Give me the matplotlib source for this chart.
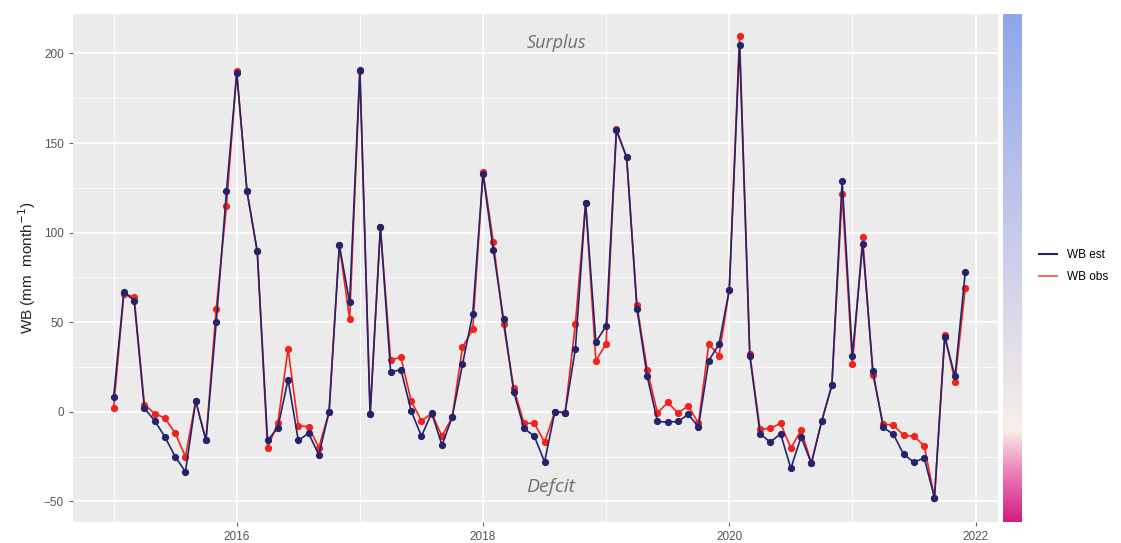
import matplotlib
matplotlib.use('Agg')
import matplotlib.pyplot as plt
import numpy as np
from matplotlib.colors import LinearSegmentedColormap
from matplotlib.lines import Line2D

plt.rcParams['font.family'] = ['Liberation Sans', 'DejaVu Sans']

# monthly series, Jan 2015 .. Dec 2021
start_year = 2015
wb_est = [8, 67, 62, 2, -5, -14, -25, -33.5, 6, -16, 50, 123,
          189, 123, 89.5, -16, -9, 18, -16, -12, -24, 0, 93, 61,
          191, -1.5, 103, 22, 23.6, 0.5, -13.6, -0.6, -18.6, -3, 26.5, 54.6,
          132.8, 90.5, 51.7, 11, -9.3, -13.6, -28, 0, -0.5, 35, 116.7, 39,
          47.9, 157, 142, 57.6, 19.8, -5.4, -5.8, -5.4, -1.5, -8.3, 28.5, 37.8,
          68, 204.8, 31.4, -12.2, -17, -12.2, -31.6, -14, -28.7, -5.4, 14.9, 128.9,
          31.4, 93.4, 22.7, -8.7, -12.6, -23.8, -28.1, -25.8, -48, 41.5, 19.8, 78]
wb_obs = [2, 66, 64, 4, -1, -3.5, -12, -25, 6, -16, 57.5, 115,
          190, 123, 89.5, -20, -6.4, 35, -7.8, -8.3, -20, 0, 93, 51.7,
          190, -1.5, 103, 29, 30.4, 6, -5, -1, -13.6, -3, 36, 46,
          134, 95, 48.8, 13, -6.4, -6.4, -17, 0, -0.5, 48.8, 116.7, 28.5,
          38, 157.7, 142, 59.5, 23.6, -0.6, 5.2, -0.6, 3.3, -6.4, 37.8, 31.4,
          68, 210, 32.4, -9.7, -9.3, -6.4, -20.3, -10.3, -28.7, -5.4, 14.9, 121.5,
          26.5, 97.3, 20.7, -7, -7.4, -13.2, -13.6, -19, -48, 43, 16.9, 69.2]
year_ticks = [2016, 2018, 2020, 2022]
y_ticks = [-50, 0, 50, 100, 150, 200]

t = start_year + np.arange(len(wb_est)) / 12.0

est_col = '#24246e'
obs_col = '#f2231d'

fig = plt.figure(figsize=(11.21, 5.43), dpi=100)
ax = fig.add_axes([0.0651, 0.0387, 0.8249, 0.9355])
ax.set_facecolor('#ebebeb')
for s in ax.spines.values():
    s.set_visible(False)

# ggplot style grid
for v in [-25, 25, 75, 125, 175]:
    ax.axhline(v, color='white', lw=0.6, zorder=0)
for v in y_ticks:
    ax.axhline(v, color='white', lw=1.2, zorder=0)
for v in [2015, 2017, 2019, 2021]:
    ax.axvline(v, color='white', lw=0.6, zorder=0)
for v in year_ticks:
    ax.axvline(v, color='white', lw=1.2, zorder=0)

ax.plot(t, wb_obs, color=obs_col, lw=1.2, marker='o', ms=4.2, zorder=2)
ax.plot(t, wb_est, color=est_col, lw=1.2, marker='o', ms=4.2, zorder=3)

ax.set_xlim(2014.67, 2022.18)
ax.set_ylim(-61.5, 222)
ax.set_xticks(year_ticks)
ax.set_yticks(y_ticks)
ax.tick_params(colors='#666666', labelsize=8.5, length=3, width=0.8, labelcolor='#555555')
ax.set_ylabel('WB (mm  month$^{-1}$)', fontsize=11, color='#222222')

ax.text(2018.6, 206, 'Surplus', fontsize=13, style='italic', color='#707070',
        family=['Open Sans', 'DejaVu Sans'], ha='center', va='center')
ax.text(2018.55, -42, 'Defcit', fontsize=14, style='italic', color='#707070',
        family=['Open Sans', 'DejaVu Sans'], ha='center', va='center')

# colour strip on the right
cmap = LinearSegmentedColormap.from_list('wb', [(0.0, '#d41c80'), (0.09, '#ea78b4'),
                                                (0.18, '#f8efe8'), (0.5, '#cfd0ea'),
                                                (1.0, '#8ea6ea')])
cax = fig.add_axes([0.8947, 0.0387, 0.0161, 0.9355])
cax.imshow(np.linspace(0, 1, 256).reshape(-1, 1), cmap=cmap, aspect='auto', origin='lower')
cax.set_axis_off()

handles = [Line2D([], [], color=est_col, lw=1.5), Line2D([], [], color='#f07060', lw=1.5)]
leg = fig.legend(handles, ['WB est', 'WB obs'], loc='center left', bbox_to_anchor=(0.917, 0.51),
                 frameon=False, fontsize=8.5, handlelength=1.6, labelspacing=0.9)

fig.savefig('out.png', dpi=100)
